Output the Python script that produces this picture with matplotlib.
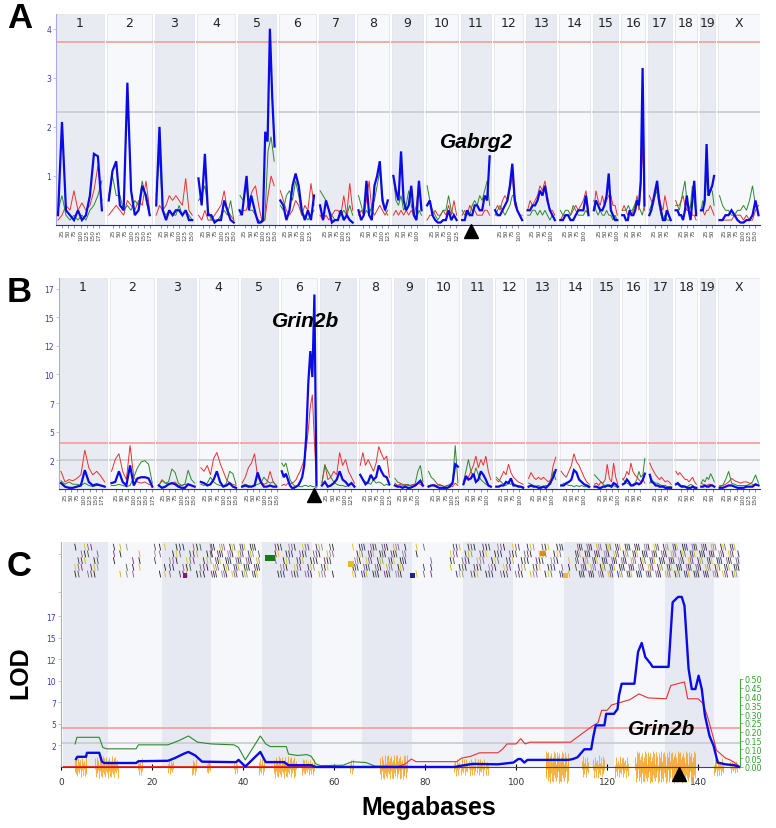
import numpy as np
import matplotlib
matplotlib.use("Agg")
import matplotlib.pyplot as plt
from matplotlib.patches import Rectangle
from matplotlib.collections import LineCollection

W, H = 776, 829

# chromosome layout (Mb)
chrom_names = ["1", "2", "3", "4", "5", "6", "7", "8", "9", "10",
               "11", "12", "13", "14", "15", "16", "17", "18", "19", "X"]
chrom_len = [195, 182, 160, 157, 152, 150, 145, 130, 125, 131,
             122, 120, 121, 125, 104, 98, 95, 91, 61, 171]
chrom_gap = 12.2

# panel A: genome scan, LOD per chromosome (evenly spaced samples)
a_blue = [
    [0.2, 2.1, 0.3, 0.2, 0.1, 0.3, 0.1, 0.2, 0.6, 1.45, 1.4, 0.3],
    [0.5, 1.1, 1.3, 0.4, 0.3, 2.9, 0.7, 0.2, 0.3, 0.8, 0.6, 0.2],
    [0.4, 2.0, 0.3, 0.1, 0.3, 0.2, 0.3, 0.3, 0.2, 0.3, 0.1, 0.1],
    [0.95, 0.4, 1.45, 0.2, 0.2, 0.05, 0.1, 0.1, 0.5, 0.3, 0.1, 0.05],
    [0.3, 0.2, 0.6, 1.0, 0.3, 0.6, 0.4, 0.2, 0.05, 0.05, 0.1, 1.9, 1.7, 4.0, 2.6, 1.6],
    [0.5, 0.4, 0.1, 0.3, 0.8, 1.05, 0.8, 0.3, 0.1, 0.3, 0.1, 0.6],
    [0.4, 0.1, 0.5, 0.3, 0.05, 0.1, 0.1, 0.3, 0.1, 0.2, 0.1, 0.05],
    [0.3, 0.1, 0.2, 0.9, 0.2, 0.1, 0.8, 1.0, 1.3, 0.5, 0.3, 0.5],
    [1.0, 0.7, 0.5, 1.5, 0.5, 0.3, 0.4, 0.8, 0.2, 0.1, 0.9, 0.3],
    [0.4, 0.5, 0.2, 0.1, 0.05, 0.05, 0.1, 0.1, 0.3, 0.1, 0.2, 0.1],
    [0.1, 0.1, 0.3, 0.2, 0.2, 0.4, 0.4, 0.3, 0.3, 0.6, 0.5, 1.4],
    [0.3, 0.2, 0.2, 0.3, 0.4, 0.5, 0.8, 1.25, 0.5, 0.3, 0.2, 0.1],
    [0.3, 0.3, 0.4, 0.4, 0.5, 0.7, 0.6, 0.8, 0.5, 0.3, 0.2, 0.1],
    [0.1, 0.1, 0.2, 0.2, 0.1, 0.1, 0.2, 0.3, 0.3, 0.3, 0.6, 0.2],
    [0.3, 0.5, 0.4, 0.3, 0.3, 0.4, 0.6, 1.05, 0.3, 0.2, 0.1, 0.1],
    [0.2, 0.2, 0.1, 0.1, 0.3, 0.2, 0.2, 0.3, 0.5, 0.4, 0.9, 3.2, 0.4],
    [0.2, 0.3, 0.5, 0.7, 0.9, 0.5, 0.3, 0.1, 0.1, 0.3, 0.2, 0.1],
    [0.3, 0.3, 0.2, 0.2, 0.1, 0.3, 0.6, 0.3, 0.1, 0.5, 0.9, 0.2],
    [0.3, 0.3, 0.5, 1.65, 0.6, 0.7, 0.8, 1.0],
    [0.1, 0.1, 0.2, 0.2, 0.3, 0.2, 0.1, 0.05, 0.05, 0.1, 0.1, 0.2, 0.5, 0.2],
]
a_red = [
    [0.1, 0.2, 0.4, 0.3, 0.7, 0.3, 0.45, 0.3, 0.4, 0.7, 1.2, 0.5],
    [0.2, 0.3, 0.4, 0.3, 0.2, 0.5, 0.4, 0.3, 0.5, 0.4, 0.9, 0.3],
    [0.2, 0.4, 0.3, 0.4, 0.6, 0.5, 0.6, 0.5, 0.4, 0.95, 0.3, 0.2],
    [0.2, 0.1, 0.3, 0.1, 0.1, 0.2, 0.3, 0.4, 0.7, 0.3, 0.2, 0.1],
    [0.2, 0.3, 0.3, 0.5, 0.7, 0.8, 0.4, 0.1, 0.1, 0.6, 1.0, 0.8],
    [0.7, 0.5, 0.3, 0.2, 0.3, 0.5, 0.4, 0.2, 0.4, 0.3, 0.85, 0.4],
    [0.2, 0.1, 0.2, 0.1, 0.2, 0.3, 0.3, 0.2, 0.6, 0.2, 0.85, 0.3],
    [0.2, 0.3, 0.2, 0.5, 0.9, 0.3, 0.2, 0.3, 0.4, 0.3, 0.2, 0.3],
    [0.2, 0.3, 0.2, 0.3, 0.2, 0.3, 0.2, 0.3, 0.2, 0.4, 0.9, 0.3],
    [0.1, 0.2, 0.2, 0.3, 0.2, 0.2, 0.3, 0.2, 0.4, 0.2, 0.5, 0.2],
    [0.2, 0.3, 0.2, 0.4, 0.3, 0.3, 0.2, 0.2, 0.2, 0.3, 0.3, 0.2],
    [0.3, 0.4, 0.3, 0.5, 0.6, 0.5, 0.7, 1.0, 0.4, 0.3, 0.2, 0.2],
    [0.3, 0.5, 0.4, 0.5, 0.6, 0.8, 0.7, 0.9, 0.6, 0.3, 0.3, 0.2],
    [0.1, 0.2, 0.2, 0.2, 0.2, 0.3, 0.4, 0.3, 0.4, 0.5, 0.7, 0.3],
    [0.3, 0.7, 0.5, 0.4, 0.6, 0.4, 0.5, 0.6, 0.6, 0.4, 0.4, 0.2],
    [0.3, 0.4, 0.3, 0.2, 0.3, 0.2, 0.3, 0.4, 0.6, 0.3, 0.7, 1.7, 0.3],
    [0.6, 0.5, 0.4, 0.6, 0.8, 0.6, 0.4, 0.3, 0.6, 0.4, 0.2, 0.1],
    [0.5, 0.4, 0.4, 0.5, 0.6, 0.4, 0.3, 0.3, 0.4, 0.2, 0.2, 0.1],
    [0.3, 0.3, 0.2, 0.3, 0.3, 0.4, 0.3, 0.2],
    [0.1, 0.1, 0.1, 0.1, 0.1, 0.2, 0.2, 0.2, 0.1, 0.2, 0.1, 0.1, 0.3, 0.4],
]
a_green = [
    [0.3, 0.6, 0.2, 0.1, 0.2, 0.1, 0.2, 0.1, 0.3, 0.4, 0.6, 0.9],
    [0.6, 1.0, 0.6, 0.6, 0.3, 0.4, 0.3, 0.5, 0.4, 0.9, 0.5, 0.2],
    [0.6, 1.4, 0.3, 0.2, 0.3, 0.2, 0.2, 0.4, 0.2, 0.3, 0.2, 0.1],
    [0.5, 0.6, 0.8, 0.3, 0.1, 0.1, 0.1, 0.2, 0.3, 0.2, 0.5, 0.1],
    [0.6, 0.5, 0.8, 0.3, 0.3, 0.2, 0.1, 0.05, 0.1, 1.5, 1.8, 1.3],
    [0.4, 0.3, 0.6, 0.7, 0.5, 0.9, 0.6, 0.2, 0.2, 0.1, 0.2, 0.3],
    [0.7, 0.6, 0.5, 0.3, 0.2, 0.1, 0.1, 0.2, 0.3, 0.2, 0.4, 0.2],
    [0.6, 0.4, 0.2, 0.3, 0.2, 0.4, 0.5, 0.8, 1.1, 0.6, 0.3, 0.2],
    [1.0, 0.5, 0.4, 0.6, 0.3, 0.4, 0.7, 0.4, 0.2, 0.1, 0.3, 0.2],
    [0.8, 0.5, 0.3, 0.2, 0.1, 0.2, 0.3, 0.3, 0.6, 0.3, 0.2, 0.1],
    [0.3, 0.2, 0.3, 0.2, 0.4, 0.5, 0.4, 0.6, 0.5, 0.7, 0.9, 0.4],
    [0.2, 0.3, 0.4, 0.3, 0.2, 0.3, 0.4, 0.6, 0.6, 0.3, 0.2, 0.1],
    [0.2, 0.2, 0.3, 0.3, 0.2, 0.3, 0.2, 0.3, 0.2, 0.1, 0.2, 0.1],
    [0.3, 0.2, 0.3, 0.3, 0.2, 0.4, 0.3, 0.2, 0.2, 0.2, 0.3, 0.2],
    [0.5, 0.3, 0.2, 0.3, 0.2, 0.2, 0.3, 0.2, 0.2, 0.1, 0.2, 0.1],
    [0.3, 0.3, 0.3, 0.4, 0.3, 0.3, 0.4, 0.5, 0.4, 0.3, 0.2, 0.4],
    [0.3, 0.4, 0.5, 0.6, 0.7, 0.4, 0.2, 0.1, 0.2, 0.1, 0.1, 0.1],
    [0.4, 0.4, 0.3, 0.5, 0.7, 0.9, 0.5, 0.3, 0.4, 0.8, 0.5, 0.2],
    [0.3, 0.5, 0.4, 1.0, 0.6, 0.7, 0.7, 0.4],
    [0.6, 0.4, 0.3, 0.3, 0.2, 0.2, 0.3, 0.3, 0.4, 0.3, 0.5, 0.8, 0.4, 0.2],
]

# panel B
b_blue = [
    [0.5, 0.2, 0.1, 0.1, 0.2, 0.3, 1.6, 0.6, 0.3, 0.4, 0.3, 0.2],
    [0.5, 0.6, 1.5, 0.6, 0.3, 2.0, 0.3, 0.9, 1.0, 1.0, 0.9, 0.2],
    [0.3, 0.1, 0.2, 0.4, 0.5, 0.4, 0.2, 0.1, 0.1, 0.4, 0.3, 0.2],
    [0.6, 0.5, 0.3, 0.4, 0.8, 1.5, 0.6, 0.2, 0.3, 0.5, 0.2, 0.1],
    [0.2, 0.3, 0.2, 0.2, 0.3, 1.4, 0.6, 0.2, 0.2, 0.3, 0.2, 0.2],
    [1.5, 1.0, 1.3, 0.8, 0.3, 0.1, 0.1, 0.2, 0.3, 0.6, 1.0, 2.0, 4.5, 9.0, 11.7, 9.5, 16.5, 0.3],
    [0.3, 0.6, 0.2, 0.3, 0.5, 0.8, 1.5, 0.8, 0.6, 0.3, 0.5, 0.2],
    [1.2, 0.8, 0.4, 0.6, 1.2, 0.8, 1.0, 2.0, 1.5, 1.1, 1.0, 0.4],
    [0.3, 0.2, 0.2, 0.1, 0.2, 0.1, 0.1, 0.2, 0.3, 0.5, 0.7, 0.3],
    [0.2, 0.3, 0.3, 0.2, 0.1, 0.1, 0.1, 0.1, 0.2, 0.5, 2.1, 1.9],
    [0.4, 1.1, 0.8, 0.9, 1.3, 0.6, 0.8, 1.5, 1.2, 0.8, 0.3, 0.2],
    [0.2, 0.2, 0.3, 0.3, 0.6, 0.5, 0.9, 0.3, 0.3, 0.2, 0.2, 0.1],
    [0.2, 0.3, 0.2, 0.2, 0.1, 0.1, 0.2, 0.1, 0.3, 0.6, 1.0, 1.6],
    [0.3, 0.3, 0.5, 0.6, 0.8, 1.6, 1.4, 0.8, 0.6, 0.4, 0.3, 0.2],
    [0.2, 0.2, 0.1, 0.1, 0.2, 0.2, 0.3, 0.3, 0.2, 0.5, 0.4, 0.2],
    [0.4, 0.5, 0.8, 0.6, 0.3, 0.3, 0.4, 0.5, 0.4, 0.5, 0.8, 1.3],
    [1.2, 0.6, 0.5, 0.3, 0.3, 0.2, 0.2, 0.2, 0.1, 0.1, 0.1, 0.1],
    [0.4, 0.5, 0.3, 0.2, 0.2, 0.2, 0.1, 0.1, 0.1, 0.2, 0.1, 0.1],
    [0.2, 0.2, 0.3, 0.2, 0.2, 0.3, 0.3, 0.2],
    [0.1, 0.1, 0.2, 0.3, 0.3, 0.2, 0.1, 0.1, 0.1, 0.2, 0.2, 0.2, 0.4, 0.3],
]
b_red = [
    [1.5, 0.6, 0.8, 0.7, 0.9, 1.2, 3.3, 1.8, 1.2, 1.5, 1.1, 0.6],
    [1.5, 2.5, 3.0, 1.5, 0.8, 3.7, 1.0, 0.6, 0.5, 0.6, 0.4, 0.3],
    [0.3, 0.8, 0.5, 0.4, 0.5, 0.6, 0.3, 0.3, 0.4, 0.4, 0.3, 0.2],
    [1.8, 1.5, 2.0, 1.2, 2.6, 3.1, 2.2, 1.5, 0.8, 0.5, 0.4, 0.3],
    [0.5, 1.0, 1.8, 2.2, 3.0, 1.0, 0.6, 0.4, 0.5, 1.5, 0.6, 0.3],
    [0.3, 0.4, 0.3, 0.5, 0.4, 0.5, 0.6, 0.8, 1.2, 1.5, 2.0, 2.5, 3.5, 5.0, 7.0, 8.0, 4.0, 0.5],
    [0.5, 2.1, 0.8, 1.0, 1.5, 1.2, 3.1, 2.0, 2.5, 1.5, 1.0, 0.5],
    [2.0, 3.1, 2.0, 2.5, 2.0, 1.5, 2.2, 3.6, 3.0, 2.5, 2.8, 1.0],
    [0.5, 0.3, 0.4, 0.3, 0.4, 0.3, 0.3, 0.4, 0.3, 0.5, 0.4, 0.2],
    [0.3, 0.3, 0.4, 0.3, 0.4, 0.3, 0.2, 0.3, 0.3, 0.2, 0.5, 0.3],
    [0.6, 0.8, 1.0, 1.5, 2.0, 2.8, 1.8, 2.5, 2.0, 2.8, 1.5, 0.8],
    [0.8, 0.6, 1.0, 1.5, 1.2, 2.1, 1.4, 1.0, 0.8, 0.6, 0.5, 0.4],
    [0.9, 1.4, 1.0, 0.8, 1.0, 0.8, 1.0, 0.8, 0.6, 0.8, 2.0, 2.7],
    [1.5, 1.2, 1.0, 1.5, 2.0, 3.0, 2.3, 2.0, 1.5, 1.0, 0.6, 0.4],
    [0.4, 0.5, 0.3, 0.6, 0.5, 0.8, 2.1, 0.9, 0.6, 2.2, 1.0, 0.4],
    [0.8, 1.0, 1.5, 1.2, 2.2, 1.5, 1.2, 1.0, 0.8, 0.6, 0.8, 0.5],
    [2.2, 1.8, 1.5, 1.2, 1.0, 0.8, 1.0, 0.8, 0.6, 0.7, 0.6, 0.4],
    [1.5, 1.2, 1.4, 1.2, 1.0, 0.8, 0.8, 0.6, 0.8, 1.0, 0.6, 0.4],
    [0.5, 0.4, 0.3, 0.3, 0.4, 0.4, 0.3, 0.2],
    [0.3, 0.3, 0.4, 0.6, 0.9, 0.7, 0.6, 0.5, 0.6, 0.6, 0.5, 0.4, 0.3, 0.3],
]
b_green = [
    [0.7, 0.4, 0.6, 0.4, 0.4, 0.3, 0.5, 0.3, 0.2, 0.3, 0.3, 0.2],
    [0.3, 0.3, 0.4, 0.3, 0.2, 0.3, 1.0, 1.8, 2.3, 2.4, 2.1, 0.5],
    [0.3, 0.7, 0.5, 0.6, 1.7, 1.4, 0.5, 0.3, 0.4, 1.6, 0.8, 0.5],
    [0.4, 0.3, 0.5, 1.0, 0.6, 0.4, 0.3, 0.2, 0.5, 1.5, 1.3, 0.4],
    [0.3, 0.4, 0.3, 0.2, 0.3, 0.4, 0.5, 1.0, 0.7, 0.5, 0.6, 0.3],
    [2.2, 1.9, 2.2, 1.5, 0.8, 0.5, 0.3, 0.2, 0.3, 0.2, 0.2, 0.3, 0.3, 0.2, 0.3, 0.2, 0.2, 0.1],
    [0.5, 2.0, 1.5, 1.0, 0.6, 0.4, 0.3, 0.3, 0.2, 0.3, 0.5, 0.3],
    [1.2, 0.8, 0.6, 0.5, 0.4, 0.8, 0.5, 0.6, 0.5, 0.3, 0.4, 0.3],
    [0.9, 0.6, 0.5, 0.4, 0.3, 0.4, 0.3, 0.2, 0.5, 1.5, 2.0, 0.6],
    [1.5, 1.0, 0.8, 0.5, 0.3, 0.3, 0.2, 0.3, 0.4, 0.6, 3.7, 0.5],
    [0.6, 1.5, 2.5, 1.5, 1.0, 1.8, 1.2, 0.8, 0.6, 0.4, 0.3, 0.2],
    [1.0, 0.8, 0.6, 0.4, 0.3, 0.5, 0.4, 0.5, 0.3, 0.3, 0.2, 0.2],
    [0.5, 0.4, 0.3, 0.2, 0.3, 0.2, 0.2, 0.3, 0.3, 0.4, 1.5, 0.8],
    [0.3, 0.5, 0.4, 0.3, 0.3, 0.2, 0.3, 0.2, 0.3, 0.2, 0.2, 0.1],
    [1.2, 1.0, 0.8, 0.6, 0.4, 0.3, 0.3, 0.2, 0.2, 0.3, 0.2, 0.1],
    [0.9, 0.6, 0.5, 0.4, 0.3, 0.4, 0.5, 0.8, 1.5, 1.0, 1.2, 2.6],
    [0.5, 0.8, 0.6, 0.5, 0.5, 0.4, 0.3, 0.3, 0.3, 0.2, 0.2, 0.2],
    [0.4, 0.5, 0.4, 0.3, 0.3, 0.2, 0.2, 0.3, 0.4, 0.3, 0.2, 0.1],
    [0.5, 0.8, 0.6, 1.0, 0.8, 1.3, 1.0, 0.6],
    [0.2, 0.3, 0.8, 1.5, 0.5, 0.4, 0.3, 0.3, 0.3, 0.3, 0.4, 0.6, 1.2, 0.5],
]

# panel C: chr6 interval, (Mb, LOD)
c_blue = [(3.3, 0.9), (3.6, 1.15), (5.5, 1.15), (5.7, 1.6), (8.4, 1.6), (9.0, 0.6),
          (9.5, 0.45), (16.5, 0.45), (17.0, 0.65), (23.5, 0.7), (25.0, 1.0), (27.0, 1.5),
          (28.0, 1.7), (29.5, 1.3), (31.0, 0.6), (37.5, 0.55), (38.5, 0.55), (39.0, 0.8),
          (40.5, 0.05), (42.0, 0.8), (43.8, 1.7), (44.5, 1.0), (45.0, 0.55), (49.0, 0.55),
          (50.0, 0.2), (55.0, 0.2), (56.0, 0.0), (86.5, 0.0), (88.0, 0.15), (90.5, 0.35),
          (96.0, 0.3), (99.4, 0.5), (100.5, 0.9), (101.0, 0.9), (101.8, 0.5), (102.5, 0.8),
          (111.5, 0.8), (112.5, 0.9), (113.5, 1.1), (115.0, 2.0), (116.5, 2.0), (117.0, 3.5),
          (117.5, 4.7), (119.4, 4.7), (119.8, 6.0), (121.5, 6.0), (122.3, 6.55), (122.6, 8.05),
          (123.2, 9.4), (126.0, 9.4), (126.8, 13.0), (127.6, 14.0), (128.4, 12.4), (129.5, 11.7),
          (130.0, 11.3), (133.5, 11.3), (134.4, 18.6), (135.6, 19.2), (136.4, 19.2), (137.0, 18.2),
          (137.9, 11.1), (138.6, 8.8), (139.4, 8.8), (140.1, 10.3), (140.8, 8.8), (141.5, 5.8),
          (142.5, 3.5), (143.4, 2.4), (144.3, 0.5), (146.0, 0.3), (148.0, 0.2), (149.0, 0.0)]
c_red = [(0.5, 0.05), (74.0, 0.05), (75.5, 0.3), (77.0, 0.9), (78.0, 0.6), (87.0, 0.6),
         (88.0, 1.0), (90.0, 1.2), (92.0, 1.6), (96.0, 1.6), (97.0, 2.0), (98.0, 2.6),
         (100.0, 2.6), (101.0, 3.2), (102.0, 2.6), (103.0, 2.8), (112.0, 2.8), (113.0, 3.2),
         (115.0, 3.95), (117.0, 4.7), (118.0, 5.0), (118.8, 6.4), (120.0, 6.4), (121.0, 7.0),
         (123.0, 7.3), (125.0, 7.6), (127.0, 8.25), (129.0, 7.8), (133.0, 7.7), (134.0, 9.2),
         (137.0, 9.6), (137.7, 7.7), (140.0, 7.7), (141.0, 7.2), (142.0, 5.8), (143.4, 3.2),
         (144.0, 1.9), (146.0, 1.0), (147.0, 0.8), (148.0, 0.5), (149.0, 0.1)]
c_green = [(3.1, 2.6), (3.5, 3.35), (8.4, 3.35), (9.2, 2.2), (10.0, 2.05), (16.5, 2.05),
           (17.0, 2.5), (23.5, 2.5), (26.0, 3.0), (28.0, 3.5), (30.0, 2.8), (33.0, 2.6),
           (38.0, 2.5), (39.0, 2.2), (40.5, 0.8), (43.8, 3.5), (45.0, 2.6), (46.0, 2.3),
           (49.5, 2.3), (50.0, 1.45), (52.0, 1.3), (54.0, 1.4), (55.0, 1.2), (56.0, 0.35),
           (57.0, 0.15), (62.0, 0.2), (64.0, 0.6), (67.0, 0.5), (69.0, 0.1), (75.0, 0.05)]

band_edges = [0.4, 10.3, 22.2, 33.0, 44.2, 55.2, 66.2, 77.1, 88.4, 99.3, 110.5, 121.5, 132.7, 143.5, 149.2]

# haplotype strip: (start Mb, end Mb, spacing Mb)
strip_regions = [(3.0, 8.5, 0.7), (11.5, 18.5, 1.4), (20.5, 24.0, 1.1), (24.5, 33.0, 0.75),
                 (33.0, 43.5, 0.45), (47.0, 60.0, 0.6), (64.0, 76.0, 0.5), (78.0, 82.0, 1.6),
                 (85.5, 110.0, 0.65), (110.0, 113.0, 1.5), (113.0, 149.0, 0.42)]
strip_colors = ["#1e1e1e", "#7b1c7b", "#8a8a8a", "#e6be1e", "#222288", "#4a4a4a",
                "#1e1e1e", "#9a4a9a", "#6a6a6a", "#d8b000", "#1e1e1e", "#3a3a3a"]
strip_blocks = [(44.8, 47.0, 23.6, "#1a7a1a"), (63.1, 64.4, 22.9, "#e6be1e"),
                (26.8, 27.7, 21.6, "#7b1c7b"), (76.7, 77.8, 21.6, "#222288"),
                (105.3, 106.4, 24.1, "#e08a1a"), (110.3, 111.3, 21.6, "#e6be1e")]

# SNP-density style bars: (start Mb, end Mb, spacing, half height)
orange_regions = [(3.0, 5.7, 0.2, 1.1), (7.5, 12.5, 0.17, 1.2), (17.0, 17.8, 0.2, 1.0),
                  (23.6, 24.7, 0.2, 0.9), (28.7, 29.8, 0.2, 0.9), (32.0, 33.0, 0.2, 0.8),
                  (38.0, 38.6, 0.2, 0.8), (43.4, 44.8, 0.2, 1.0), (46.7, 51.8, 0.17, 1.2),
                  (52.9, 55.5, 0.2, 0.9), (63.5, 64.2, 0.2, 0.9), (70.0, 76.0, 0.17, 1.4),
                  (86.3, 94.0, 0.25, 1.0), (106.5, 111.6, 0.15, 1.8), (114.4, 115.9, 0.2, 1.2),
                  (117.0, 119.6, 0.2, 1.3), (121.8, 124.7, 0.2, 1.2), (126.2, 139.4, 0.15, 1.8),
                  (143.4, 145.5, 0.2, 1.0), (146.9, 148.7, 0.25, 0.7)]
orange_pattern = [1.0, 0.35, 0.85, 0.2, 0.95, 0.5, 0.7, 0.15, 0.9, 0.4, 0.6, 0.25]

gabrg2 = (10, 41.8)   # chromosome index, Mb
grin2b = (5, 135.7)

BLUE = "#0a0ae6"
RED = "#e83030"
GREEN = "#2a8a2a"
TICKBLUE = "#3b3bbb"

fig = plt.figure(figsize=(W / 100, H / 100), dpi=100)


def frac(x0, y0, x1, y1):
    return [x0 / W, 1 - y1 / H, (x1 - x0) / W, (y1 - y0) / H]


offs = np.cumsum([0] + [L + chrom_gap for L in chrom_len[:-1]])
total = offs[-1] + chrom_len[-1]


def genome_panel(rect, ytop, blue, red, green, red_thr, grey_thr, yt, ytl, gene):
    ax = fig.add_axes(frac(*rect))
    ax.set_xlim(0, total)
    ax.set_ylim(0, ytop)
    for s in ["top", "right"]:
        ax.spines[s].set_visible(False)
    ax.spines["left"].set_color("#a8a8e8")
    ax.spines["bottom"].set_color("#333355")
    ax.set_xticks([])
    ax.set_yticks(yt)
    ax.set_yticklabels(ytl, fontsize=5.5, color=TICKBLUE)
    ax.tick_params(axis="y", length=2, width=0.5, color="#a8a8e8", pad=1.5)
    trans = ax.get_xaxis_transform()
    for c, (name, L) in enumerate(zip(chrom_names, chrom_len)):
        x0 = offs[c]
        fc = "#e9ebf3" if c % 2 == 0 else "#f7f8fc"
        ax.add_patch(Rectangle((x0, 0), L, ytop, fc=fc, ec="#e0e0ea", lw=0.5, zorder=0))
        ax.plot([x0, x0 + L], [red_thr, red_thr], color="#f2a8a8", lw=1.4, zorder=1)
        ax.plot([x0, x0 + L], [grey_thr, grey_thr], color="#cfcfd6", lw=1.4, zorder=1)
        ax.text(x0 + L / 2, 0.962, name, transform=trans, ha="center", va="center",
                fontsize=9, color="#222222")
        for vals, col, lw, z in [(red, RED, 0.7, 2), (green, GREEN, 0.7, 3), (blue, BLUE, 1.6, 4)]:
            v = vals[c]
            n = len(v)
            xs = x0 + (np.arange(n) + 0.5) / n * L
            ax.plot(xs, v, color=col, lw=lw, zorder=z, solid_joinstyle="miter")
        if c != gene[0]:
            marks = np.arange(25, L, 25)
            ax.vlines(x0 + marks, -0.012, 0, transform=trans, color="#666666", lw=0.5, clip_on=False)
            for m in marks:
                ax.text(x0 + m, -0.018, str(m), transform=trans, rotation=90, ha="center",
                        va="top", fontsize=4.2, color="#444444")
    ax.plot([offs[gene[0]] + gene[1]], [-0.03], transform=trans, marker="^", ms=9.5,
            color="black", clip_on=False, zorder=6)
    return ax


genome_panel((56, 15, 760, 226), 4.3, a_blue, a_red, a_green, 3.73, 2.3,
             [1, 2, 3, 4], ["1", "2", "3", "4"], gabrg2)
lod_ticks = [k * 17 / 7 for k in range(1, 8)]
lod_labels = [str(int(round(t))) for t in lod_ticks]
genome_panel((59, 279, 760, 490), 17.9, b_blue, b_red, b_green, 3.9, 2.46,
             lod_ticks, lod_labels, grin2b)

# ---- panel C
ytop_c = 25.4
ylo_c = -2.8
axc = fig.add_axes(frac(61, 543, 740, 768 + 2.8 * 8.85))
axc.set_xlim(0, 149.2)
axc.set_ylim(ylo_c, ytop_c)
for s in ["top", "right"]:
    axc.spines[s].set_visible(False)
axc.spines["left"].set_bounds(0, ytop_c)
axc.spines["left"].set_color("#a8a8e8")
axc.spines["bottom"].set_position(("data", 0))
axc.spines["bottom"].set_color("#444466")
axc.set_yticks(lod_ticks + [19.8, 24.1])
axc.set_yticklabels(lod_labels + ["", ""], fontsize=5.5, color=TICKBLUE)
axc.tick_params(axis="y", length=2, width=0.5, color="#a8a8e8", pad=1.5)
axc.set_xticks(range(0, 141, 20))
axc.set_xticklabels([str(v) for v in range(0, 141, 20)], fontsize=6.5, color="#333333")
axc.tick_params(axis="x", direction="inout", length=5, width=0.8, pad=5)

for i in range(len(band_edges) - 1):
    fc = "#e6e9f2" if i % 2 == 0 else "#f6f7fb"
    axc.add_patch(Rectangle((band_edges[i], 0), band_edges[i + 1] - band_edges[i], ytop_c,
                            fc=fc, ec="none", zorder=0))

axc.plot([0, 149.2], [4.4, 4.4], color="#f2a8a8", lw=1.4, zorder=1)
axc.plot([0, 149.2], [2.7, 2.7], color="#cfcfd6", lw=1.4, zorder=1)

# haplotype strip
segs, cols = [], []
row_h, strip_bot, nrows = 0.76, 21.4, 5
k = 0
for s, e, step in strip_regions:
    for x in np.arange(s, e, step):
        for r in range(nrows):
            if (k * 3 + r * 2) % 5 in (1, 4):
                continue
            segs.append([(x, strip_bot + (r + 1) * row_h), (x + 0.3, strip_bot + r * row_h)])
            cols.append(strip_colors[(k * 5 + r * 3) % len(strip_colors)])
        k += 1
axc.add_collection(LineCollection(segs, colors=cols, linewidths=0.6, zorder=2))
for s, e, y, col in strip_blocks:
    axc.add_patch(Rectangle((s, y - 0.3), e - s, 0.6, fc=col, ec="none", zorder=3))

# orange bars
ox, oup, odn = [], [], []
j = 0
for s, e, step, h in orange_regions:
    for x in np.arange(s, e, step):
        ox.append(x)
        oup.append(h * orange_pattern[j % len(orange_pattern)])
        odn.append(-h * orange_pattern[(j + 5) % len(orange_pattern)])
        j += 1
axc.vlines(ox, odn, oup, color="#f5a623", lw=0.6, zorder=2)

for pts, col, lw, z in [(c_green, GREEN, 0.8, 3), (c_red, RED, 0.8, 4), (c_blue, BLUE, 1.7, 5)]:
    xs, ys = zip(*pts)
    axc.plot(xs, ys, color=col, lw=lw, zorder=z)

axc.plot([grin2b[1]], [-0.8], marker="^", ms=9.5, color="black", zorder=6, clip_on=False)

# right-hand axis (green)
kk = 0.5 / 9.94
axr = axc.twinx()
axr.set_ylim(ylo_c * kk, ytop_c * kk)
for s in ["top", "left", "bottom"]:
    axr.spines[s].set_visible(False)
axr.spines["right"].set_bounds(0, 0.5)
axr.spines["right"].set_color("#44aa44")
gt = [i * 0.05 for i in range(11)]
axr.set_yticks(gt)
axr.set_yticklabels([f"{v:.2f}" for v in gt], fontsize=5.8, color="#33a033")
axr.tick_params(axis="y", length=2, width=0.5, color="#44aa44", pad=1)

# texts
txt = dict(family="Liberation Sans", weight="bold")
fig.text(20 / W, 1 - 19 / H, "A", fontsize=25, ha="center", va="center", **txt)
fig.text(19 / W, 1 - 292 / H, "B", fontsize=25, ha="center", va="center", **txt)
fig.text(19 / W, 1 - 566 / H, "C", fontsize=25, ha="center", va="center", **txt)
fig.text(477 / W, 1 - 142 / H, "Gabrg2", fontsize=15, style="italic", ha="center", va="center", **txt)
fig.text(306 / W, 1 - 322 / H, "Grin2b", fontsize=15, style="italic", ha="center", va="center", **txt)
fig.text(662 / W, 1 - 730 / H, "Grin2b", fontsize=15, style="italic", ha="center", va="center", **txt)
fig.text(20 / W, 1 - 673 / H, "LOD", fontsize=18, rotation=90, ha="center", va="center", **txt)
fig.text(429 / W, 1 - 808 / H, "Megabases", fontsize=18, ha="center", va="center", **txt)

fig.savefig("out.png", dpi=100)
